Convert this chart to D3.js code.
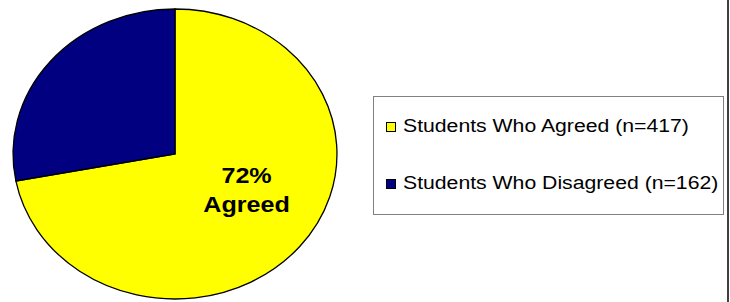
<!DOCTYPE html>
<html>
<head>
<meta charset="utf-8">
<script src="https://cdn.jsdelivr.net/npm/d3@7"></script>
<style>
  body { margin: 0; background: #fff; }
  svg { display: block; font-family: Arial, "Liberation Sans", sans-serif; }
</style>
</head>
<body>
<script>

var categories = ["Students Who Agreed (n=417)", "Students Who Disagreed (n=162)"];
var counts = [417, 162];
var colors = ["#ffff00", "#000080"];
var sliceLabel = ["Agreed", ""];

var svgWidth = 730, svgHeight = 302;
var stretch = 1.117;           // the whole picture is a bit wider than tall
var cx = 175, cy = 154, radius = 145;

var svg = d3.select("body").append("svg")
    .attr("width", svgWidth).attr("height", svgHeight);

var total = d3.sum(counts);
var data = counts.map(function(v, i) {
  return {name: categories[i], value: v, color: colors[i], label: sliceLabel[i]};
});

var pie = d3.pie().sort(null).value(function(d) { return d.value; });
var arc = d3.arc().innerRadius(0).outerRadius(radius);
var labelArc = d3.arc().innerRadius(radius * 0.52).outerRadius(radius * 0.52);

var pieGroup = svg.append("g")
    .attr("transform", "translate(" + cx + "," + cy + ") scale(" + stretch + ",1)");

pieGroup.selectAll("path.slice")
    .data(pie(data))
  .enter().append("path")
    .attr("class", "slice")
    .attr("d", arc)
    .attr("fill", function(d) { return d.data.color; })
    .attr("stroke", "#000")
    .attr("stroke-width", 1.3)
    .attr("vector-effect", "non-scaling-stroke");

// percentage label inside the big slice
pieGroup.selectAll("text.pct")
    .data(pie(data).filter(function(d) { return d.data.label; }))
  .enter().append("text")
    .attr("class", "pct")
    .attr("text-anchor", "middle")
    .attr("font-weight", "bold")
    .attr("font-size", "22.5px")
    .attr("fill", "#000")
    .attr("transform", function(d) {
      var c = labelArc.centroid(d);
      return "translate(" + (c[0] + 6) + "," + (c[1] - 19) + ")";
    })
    .each(function(d) {
      var t = d3.select(this);
      t.append("tspan").attr("x", 0).attr("y", 0)
        .text(Math.round(d.data.value / total * 100) + "%");
      t.append("tspan").attr("x", 0).attr("y", 29)
        .text(d.data.label);
    });

// legend
var legend = svg.append("g");

legend.append("rect")
    .attr("x", 373.5).attr("y", 96.5)
    .attr("width", 350).attr("height", 118)
    .attr("fill", "#fff")
    .attr("stroke", "#808080")
    .attr("stroke-width", 1);

var rowY = d3.scalePoint().domain(categories).range([132, 189]);

var rows = legend.selectAll("g.row")
    .data(data)
  .enter().append("g")
    .attr("class", "row")
    .attr("transform", function(d) { return "translate(0," + rowY(d.name) + ")"; });

rows.append("rect")
    .attr("x", 386.5).attr("y", -9.5)
    .attr("width", 9).attr("height", 9)
    .attr("fill", function(d) { return d.color; })
    .attr("stroke", "#000")
    .attr("stroke-width", 1);

rows.append("text")
    .attr("transform", "translate(403,0) scale(" + stretch + ",1)")
    .attr("font-size", "19px")
    .attr("fill", "#000")
    .text(function(d) { return d.name; });

// frame line at the right edge
svg.append("line")
    .attr("x1", 728).attr("x2", 728)
    .attr("y1", 0).attr("y2", svgHeight)
    .attr("stroke", "#404040")
    .attr("stroke-width", 2);

</script>
</body>
</html>
